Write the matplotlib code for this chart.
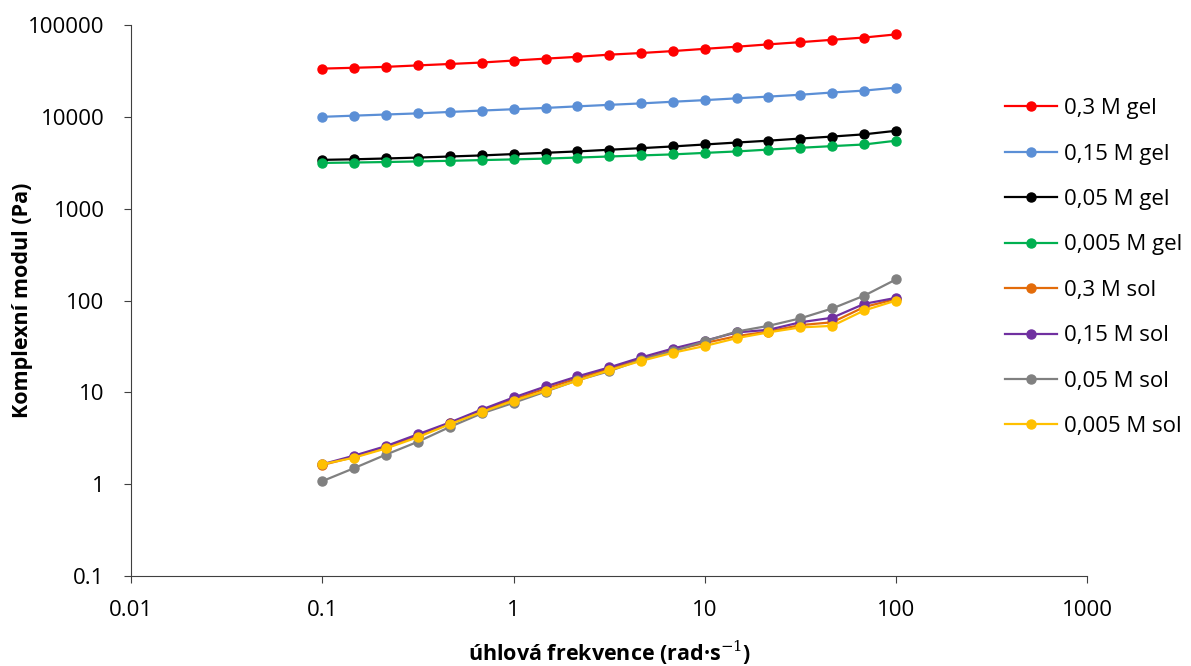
import numpy as np
from matplotlib import pyplot as plt
from matplotlib.ticker import FixedLocator, FixedFormatter, NullLocator

# angular frequency (rad/s), 6 points per decade
freq = [0.1, 0.147, 0.215, 0.316, 0.464, 0.681, 1.0, 1.47, 2.15, 3.16,
        4.64, 6.81, 10.0, 14.7, 21.5, 31.6, 46.4, 68.1, 100.0]

gel_03 = [33500, 34200, 35000, 36300, 37600, 39000, 41000, 43000, 45000, 47500,
          49500, 52000, 55000, 58000, 61500, 65000, 69000, 73000, 79000]
gel_015 = [10000, 10300, 10600, 10900, 11300, 11700, 12100, 12500, 13000, 13500,
           14000, 14600, 15200, 15900, 16600, 17400, 18400, 19300, 20800]
gel_005 = [3400, 3450, 3520, 3600, 3700, 3800, 3930, 4060, 4200, 4380,
           4560, 4760, 5000, 5250, 5500, 5800, 6100, 6450, 7050]
gel_0005 = [3150, 3180, 3220, 3270, 3320, 3380, 3440, 3510, 3600, 3700,
            3800, 3900, 4050, 4200, 4400, 4600, 4800, 5000, 5500]
sol_03 = [1.62, 1.98, 2.5, 3.35, 4.6, 6.3, 8.4, 11.0, 14.2, 18.0,
          23.0, 28.5, 34.5, 41.0, 46.0, 54.0, 58.0, 85.0, 104.0]
sol_015 = [1.65, 2.05, 2.6, 3.5, 4.7, 6.5, 8.8, 11.6, 14.9, 18.7,
           24.0, 30.0, 36.5, 45.0, 48.0, 58.0, 65.0, 92.0, 107.0]
sol_005 = [1.08, 1.5, 2.1, 2.9, 4.2, 5.9, 7.7, 10.2, 13.5, 17.0,
           22.6, 28.0, 36.0, 46.0, 53.0, 64.0, 82.0, 113.0, 170.0]
sol_0005 = [1.65, 1.95, 2.45, 3.25, 4.5, 6.1, 8.1, 10.4, 13.4, 17.4,
            22.0, 27.0, 32.0, 39.0, 45.0, 51.0, 53.0, 78.0, 100.0]

series = [
    ("0,3 M gel", gel_03, "#ff0000"),
    ("0,15 M gel", gel_015, "#5b8fd6"),
    ("0,05 M gel", gel_005, "#000000"),
    ("0,005 M gel", gel_0005, "#00b050"),
    ("0,3 M sol", sol_03, "#e36c0a"),
    ("0,15 M sol", sol_015, "#7030a0"),
    ("0,05 M sol", sol_005, "#808080"),
    ("0,005 M sol", sol_0005, "#ffc000"),
]

plt.rcParams['font.family'] = ['Open Sans', 'DejaVu Sans']
plt.rcParams['mathtext.fontset'] = 'dejavuserif'

fig = plt.figure(figsize=(11.91, 6.66), dpi=100)
ax = fig.add_axes([0.110, 0.135, 0.803, 0.8275])

for label, vals, color in series:
    ax.plot(freq, vals, color=color, marker='o', markersize=6.5, linewidth=1.6, label=label)

ax.set_xscale('log')
ax.set_yscale('log')
ax.set_xlim(0.01, 1000)
ax.set_ylim(0.1, 100000)

xt = [0.01, 0.1, 1, 10, 100, 1000]
yt = [0.1, 1, 10, 100, 1000, 10000, 100000]
ax.xaxis.set_major_locator(FixedLocator(xt))
ax.xaxis.set_major_formatter(FixedFormatter(["0.01", "0.1", "1", "10", "100", "1000"]))
ax.xaxis.set_minor_locator(NullLocator())
ax.yaxis.set_major_locator(FixedLocator(yt))
ax.yaxis.set_major_formatter(FixedFormatter(["0.1", "1", "10", "100", "1000", "10000", "100000"]))
ax.yaxis.set_minor_locator(NullLocator())

ax.spines['top'].set_visible(False)
ax.spines['right'].set_visible(False)
for s in ('left', 'bottom'):
    ax.spines[s].set_color('#404040')
ax.tick_params(axis='both', labelsize=16, color='#404040', length=5, direction='out')
ax.tick_params(axis='y', pad=14)
ax.tick_params(axis='x', pad=12)

ax.set_ylabel("Komplexní modul (Pa)", fontsize=15.5, fontweight='bold')
ax.yaxis.set_label_coords(-0.1025, 0.5)
ax.set_xlabel("úhlová frekvence (rad·s$^{-1}$)", fontsize=15.5, fontweight='bold', labelpad=13)

fig.legend(loc='upper left', bbox_to_anchor=(0.8365, 0.866), frameon=False, borderaxespad=0,
           fontsize=16, handlelength=2.35, labelspacing=1.1, handletextpad=0.3)

plt.savefig("out.png", dpi=100)
